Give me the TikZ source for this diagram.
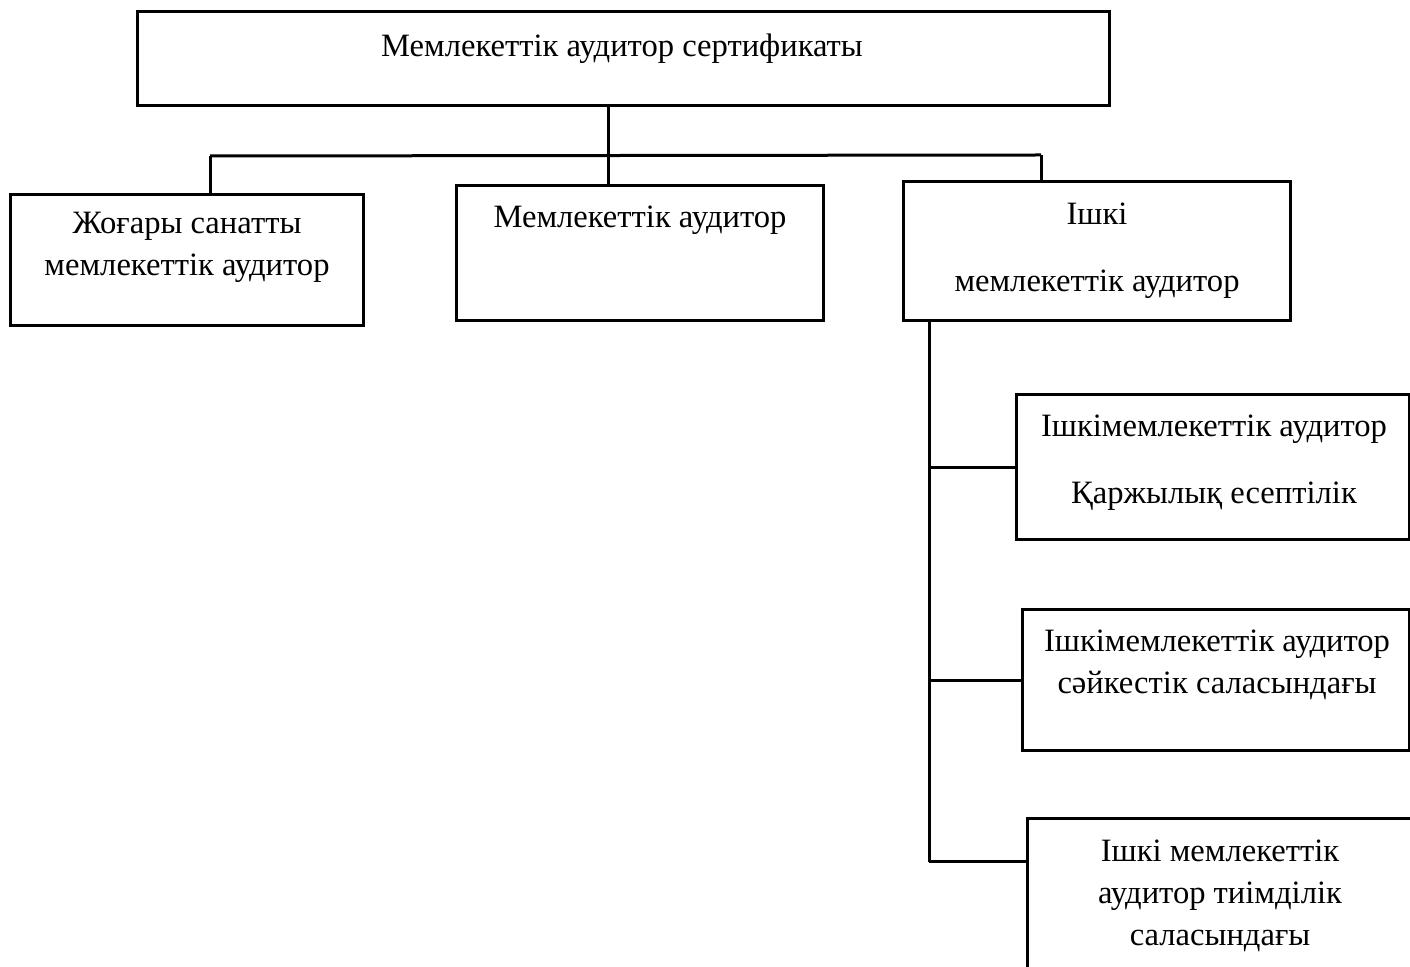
\documentclass[tikz,border=0pt]{standalone}
\usepackage{fontspec}
\setmainfont{Liberation Serif}
\usetikzlibrary{fit}
\begin{document}
\begin{tikzpicture}[x=0.5pt,y=-0.5pt,
  box/.style={draw, line width=1.5pt, inner sep=0pt, rectangle},
  txt/.style={anchor=north, inner sep=0pt, align=center, font=\fontsize{16.3}{21}\selectfont},
  conn/.style={line width=1.5pt}]
\useasboundingbox (0,0) rectangle (1410,967);
\clip (0,0) rectangle (1410,967);
% boxes
\node[box, fit={(137,12) (1109,106)}] (top) {};
\node[box, fit={(10,195) (363,326)}] (left) {};
\node[box, fit={(456,186) (823,321)}] (mid) {};
\node[box, fit={(903,182) (1290,321)}] (right) {};
\node[box, fit={(1016,395) (1409,540)}] (sub1) {};
\node[box, fit={(1022,610) (1409,751)}] (sub2) {};
\node[box, fit={(1027,819) (1470,1010)}] (sub3) {};
% texts
\node[txt] (topt) at (622,33) {Мемлекеттік аудитор сертификаты};
\node[txt] (leftt) at (187,212) {Жоғары санатты\\мемлекеттік аудитор};
\node[txt] (midt) at (640,206) {Мемлекеттік аудитор};
\node[txt] (rightt) at (1097,203) {Ішкі\\[12.5pt]мемлекеттік аудитор};
\node[txt] (sub1t) at (1214,415) {Ішкімемлекеттік аудитор\\[12.5pt]Қаржылық есептілік};
\node[txt] (sub2t) at (1217,630) {Ішкімемлекеттік аудитор\\сәйкестік саласындағы};
\node[txt] (sub3t) at (1220,840) {Ішкі мемлекеттік\\аудитор тиімділік\\саласындағы};
% connectors
\coordinate (j0) at (608,155);
\coordinate (bl) at (210,156);
\coordinate (br) at (1041,155);
\coordinate (t) at (929,862);
\draw[conn] (top.south -| j0) -- (mid.north -| j0);
\draw[conn] (bl) -- (br);
\draw[conn] (bl) -- (left.north -| bl);
\draw[conn] (br) -- (right.north -| br);
\draw[conn] (right.south -| t) -- (t);
\draw[conn] (t |- sub1.west) -- (sub1.west);
\draw[conn] (t |- sub2.west) -- (sub2.west);
\draw[conn] (t) -- (t -| sub3.west);
\end{tikzpicture}
\end{document}
